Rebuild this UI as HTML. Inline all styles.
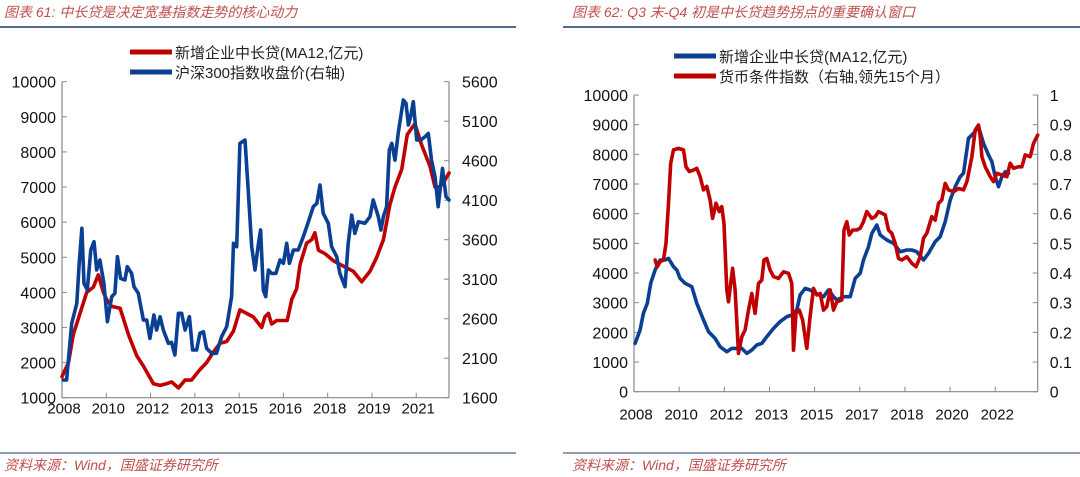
<!DOCTYPE html>
<html><head><meta charset="utf-8">
<style>
html,body{margin:0;padding:0;background:#fff;}
svg{display:block;font-family:"Liberation Sans","Noto Sans CJK SC",sans-serif;}
</style></head>
<body>
<svg id="c" width="1080" height="477" viewBox="0 0 1080 477" xmlns="http://www.w3.org/2000/svg">
<text x="4" y="17" font-size="14" fill="#c0504d" font-style="italic">图表 61:  中长贷是决定宽基指数走势的核心动力</text>
<text x="572" y="17" font-size="14" fill="#c0504d" font-style="italic">图表 62:  Q3 末-Q4 初是中长贷趋势拐点的重要确认窗口</text>
<line x1="0" y1="27" x2="516" y2="27" stroke="#1f3864" stroke-width="1.5"/>
<line x1="563" y1="27" x2="1080" y2="27" stroke="#1f3864" stroke-width="1.5"/>
<line x1="0" y1="453" x2="516" y2="453" stroke="#1f3864" stroke-width="1"/>
<line x1="563" y1="453" x2="1080" y2="453" stroke="#1f3864" stroke-width="1"/>
<text x="4" y="470" font-size="14" fill="#c0504d" font-style="italic">资料来源：Wind，国盛证券研究所</text>
<text x="572" y="470" font-size="14" fill="#c0504d" font-style="italic">资料来源：Wind，国盛证券研究所</text>
<g id="left"></g>
<g id="right"></g>
</svg>
<script>
// ---------- Left chart data ----------
const leftXLabels = ["2008","2010","2012","2013","2015","2016","2018","2019","2021"];
const leftYTicks = [1000,2000,3000,4000,5000,6000,7000,8000,9000,10000];
const leftY2Ticks = [1600,2100,2600,3100,3600,4100,4600,5100,5600];
const leftLoanDates = [2008.00,2008.24,2008.42,2008.67,2008.92,2009.17,2009.35,2009.54,2009.66,2009.85,2010.16,2010.47,2010.78,2011.03,2011.40,2011.65,2011.89,2012.08,2012.33,2012.58,2012.82,2013.13,2013.38,2013.63,2013.88,2014.13,2014.38,2014.62,2014.87,2015.12,2015.43,2015.55,2015.68,2015.80,2015.99,2016.24,2016.38,2016.55,2016.73,2016.86,2017.10,2017.29,2017.41,2017.54,2017.79,2018.10,2018.34,2018.59,2018.84,2019.15,2019.46,2019.71,2019.96,2020.20,2020.39,2020.64,2020.85,2021.13,2021.38,2021.69,2021.88,2022.06,2022.25,2022.40];
const leftLoanValues = [1600,2000,2800,3400,4000,4150,4500,4000,3800,3600,3550,2800,2200,1900,1400,1350,1400,1450,1280,1500,1500,1800,2000,2300,2550,2600,2900,3500,3400,3300,3000,3300,3400,3100,3200,3200,3200,3800,4100,4800,5400,5500,5700,5200,5100,4900,4800,4700,4600,4300,4600,5000,5500,6500,7000,7500,8500,8800,8200,7600,7000,7000,7200,7400];
const leftIndexDates = [2008.05,2008.17,2008.36,2008.55,2008.64,2008.74,2008.82,2008.94,2009.07,2009.19,2009.29,2009.41,2009.56,2009.69,2009.85,2009.97,2010.06,2010.18,2010.34,2010.43,2010.59,2010.68,2010.84,2011.03,2011.15,2011.27,2011.42,2011.52,2011.65,2011.77,2011.96,2012.08,2012.20,2012.33,2012.45,2012.58,2012.74,2012.86,2013.01,2013.13,2013.26,2013.38,2013.57,2013.75,2013.94,2014.13,2014.31,2014.38,2014.50,2014.62,2014.81,2014.93,2015.06,2015.18,2015.31,2015.39,2015.49,2015.58,2015.68,2015.80,2015.96,2016.11,2016.24,2016.36,2016.46,2016.61,2016.79,2016.98,2017.17,2017.35,2017.48,2017.60,2017.72,2017.91,2018.03,2018.22,2018.34,2018.53,2018.65,2018.78,2018.90,2019.03,2019.27,2019.46,2019.58,2019.77,2019.87,2019.96,2020.08,2020.18,2020.27,2020.39,2020.51,2020.70,2020.80,2020.89,2020.97,2021.07,2021.20,2021.35,2021.51,2021.63,2021.75,2021.88,2022.00,2022.16,2022.29,2022.40];
const leftIndexValues = [1824,1824,2541,2794,3300,3744,3047,2963,3469,3575,3216,3343,3047,2562,2879,2921,3385,3110,3090,3258,3174,3005,2921,2583,2583,2351,2647,2457,2625,2457,2288,2300,2140,2668,2668,2457,2625,2204,2204,2415,2436,2225,2162,2162,2372,2499,2879,3554,3512,4819,4862,4229,3512,3216,3554,3723,2963,2879,3216,3174,3174,3343,3301,3554,3301,3469,3469,3638,3828,4018,4060,4292,3934,3807,3512,3385,3174,3005,3554,3912,3680,3828,3807,3891,4102,3891,3723,3891,4018,4735,4819,4608,4946,5368,5326,5052,5157,5347,4862,4862,4904,4946,4608,4397,4018,4503,4144,4102];

// ---------- Right chart data ----------
const rightXLabels = ["2008","2010","2012","2013","2015","2017","2018","2020","2022"];
const rightYTicks = [0,1000,2000,3000,4000,5000,6000,7000,8000,9000,10000];
const rightY2Ticks = [0,0.1,0.2,0.3,0.4,0.5,0.6,0.7,0.8,0.9,1];
const rightY2Labels = ["0","0.1","0.2","0.3","0.4","0.5","0.6","0.7","0.8","0.9","1"];
const rightLoanDates = [2008.04,2008.22,2008.34,2008.48,2008.60,2008.76,2008.94,2009.12,2009.24,2009.42,2009.54,2009.66,2009.84,2010.08,2010.26,2010.50,2010.68,2010.92,2011.10,2011.34,2011.52,2011.70,2011.88,2012.06,2012.24,2012.42,2012.60,2012.78,2013.02,2013.26,2013.50,2013.68,2013.86,2013.98,2014.16,2014.34,2014.52,2014.82,2015.00,2015.18,2015.30,2015.54,2015.78,2015.96,2016.14,2016.26,2016.44,2016.56,2016.74,2016.86,2017.10,2017.34,2017.58,2017.82,2018.00,2018.18,2018.42,2018.60,2018.84,2019.02,2019.20,2019.38,2019.56,2019.74,2019.86,2020.04,2020.22,2020.40,2020.58,2020.76,2020.88,2021.00,2021.12,2021.24,2021.36,2021.48];
const rightLoanValues = [1629,2079,2640,2978,3652,4101,4438,4438,4494,4213,4101,3820,3652,3539,2978,2416,2022,1798,1517,1348,1461,1461,1461,1292,1404,1573,1629,1854,2135,2360,2528,2584,2753,3258,3483,3427,3315,3202,3427,3202,3090,3202,3202,3820,3989,4438,4888,5337,5618,5281,5112,5000,4719,4775,4775,4719,4438,4663,5056,5225,5730,6461,6910,7247,7360,8539,8708,8933,8371,7978,7753,7247,6910,7247,7416,7360];
const rightIndexDates = [2008.76,2008.84,2008.94,2009.06,2009.15,2009.24,2009.32,2009.42,2009.60,2009.78,2009.87,2009.99,2010.14,2010.26,2010.38,2010.50,2010.62,2010.74,2010.83,2010.95,2011.07,2011.16,2011.24,2011.34,2011.40,2011.48,2011.55,2011.64,2011.76,2011.88,2012.00,2012.12,2012.24,2012.36,2012.48,2012.60,2012.68,2012.78,2012.90,2013.02,2013.20,2013.38,2013.56,2013.68,2013.74,2013.83,2013.95,2014.07,2014.22,2014.34,2014.46,2014.58,2014.70,2014.82,2014.94,2015.06,2015.18,2015.30,2015.48,2015.56,2015.66,2015.75,2015.87,2016.02,2016.14,2016.26,2016.38,2016.56,2016.68,2016.80,2017.04,2017.16,2017.28,2017.40,2017.52,2017.64,2017.82,2018.00,2018.15,2018.30,2018.42,2018.54,2018.72,2018.84,2018.96,2019.08,2019.20,2019.32,2019.50,2019.68,2019.86,2019.98,2020.16,2020.28,2020.40,2020.46,2020.52,2020.64,2020.82,2020.94,2021.06,2021.24,2021.42,2021.54,2021.66,2021.84,2021.96,2022.08,2022.26,2022.38,2022.53];
const rightIndexValues = [0.444,0.421,0.438,0.444,0.5,0.635,0.77,0.815,0.82,0.815,0.758,0.742,0.747,0.753,0.725,0.680,0.692,0.646,0.584,0.635,0.607,0.624,0.567,0.343,0.303,0.365,0.416,0.343,0.129,0.185,0.208,0.275,0.331,0.264,0.365,0.376,0.444,0.449,0.410,0.388,0.382,0.404,0.399,0.365,0.140,0.264,0.275,0.242,0.146,0.253,0.348,0.326,0.331,0.275,0.287,0.343,0.275,0.303,0.309,0.545,0.573,0.528,0.545,0.545,0.551,0.573,0.607,0.584,0.590,0.607,0.596,0.545,0.534,0.5,0.449,0.444,0.455,0.433,0.421,0.455,0.517,0.534,0.590,0.578,0.635,0.646,0.702,0.680,0.674,0.685,0.680,0.708,0.792,0.882,0.899,0.860,0.792,0.758,0.725,0.708,0.736,0.730,0.725,0.770,0.753,0.758,0.758,0.798,0.792,0.837,0.865];

const NS="http://www.w3.org/2000/svg";
function mk(parent,tag,attrs){const e=document.createElementNS(NS,tag);for(const k in attrs)e.setAttribute(k,attrs[k]);parent.appendChild(e);return e;}
function lin(d0,d1,r0,r1){return v=>r0+(v-d0)/(d1-d0)*(r1-r0);}

function drawChart(g,cfg){
  const x=lin(cfg.xd[0],cfg.xd[1],cfg.L,cfg.R);
  const y=lin(cfg.yd[0],cfg.yd[1],cfg.B,cfg.T);
  const y2=lin(cfg.y2d[0],cfg.y2d[1],cfg.B,cfg.T);
  // axes
  let a=mk(g,'line',{x1:cfg.L,y1:cfg.T,x2:cfg.L,y2:cfg.B,stroke:'#888','stroke-width':1.2});
  
  a=mk(g,'line',{x1:cfg.R,y1:cfg.T,x2:cfg.R,y2:cfg.B,stroke:'#888','stroke-width':1.2});
  
  a=mk(g,'line',{x1:cfg.L,y1:cfg.B,x2:cfg.R,y2:cfg.B,stroke:'#888','stroke-width':1.2});
  
  cfg.yt.forEach(v=>{
    const yy=y(v);
    const tk=mk(g,'line',{x1:cfg.L,y1:yy,x2:cfg.L+5,y2:yy,stroke:'#888'});
    
    const t=mk(g,'text',{x:cfg.L-6,y:yy+6,'font-size':16,'text-anchor':'end',fill:'#111'});
    t.textContent=String(v);
    
  });
  cfg.y2t.forEach((v,i)=>{
    const yy=y2(v);
    const tk=mk(g,'line',{x1:cfg.R-5,y1:yy,x2:cfg.R,y2:yy,stroke:'#888'});
    
    const t=mk(g,'text',{x:cfg.R+cfg.y2off,y:yy+6,'font-size':16,'text-anchor':'start',fill:'#111'});
    t.textContent=cfg.y2l?cfg.y2l[i]:String(v);
    
  });
  const step=(cfg.R-cfg.L)/cfg.nInt;
  for(let i=0;i<=cfg.nInt;i++){
    const xx=cfg.L+i*step;
    const tk=mk(g,'line',{x1:xx,y1:cfg.B-5,x2:xx,y2:cfg.B,stroke:'#888'});
    
  }
  cfg.xl.forEach((s,i)=>{
    const t=mk(g,'text',{x:cfg.L+i*step+2,y:cfg.B+cfg.xlOff,'font-size':15,'text-anchor':'middle',fill:'#111'});
    t.textContent=s;
    
  });
  function path(dates,vals,sc,color,name){
    const d=dates.map((t,i)=>(i?'L':'M')+x(t).toFixed(1)+','+sc(vals[i]).toFixed(1)).join('');
    const p=mk(g,'path',{d:d,fill:'none',stroke:color,'stroke-width':3.6,'stroke-linejoin':'round','stroke-linecap':'round'});
    
    
  }
  cfg.series.forEach(s=>path(s.d,s.v,s.axis===2?y2:y,s.c,s.n));
  cfg.legend.forEach((l,i)=>{
    const yy=cfg.legY+i*20;
    const ln=mk(g,'line',{x1:cfg.legX,y1:yy,x2:cfg.legX+42,y2:yy,stroke:l.c,'stroke-width':5});
    
    const t=mk(g,'text',{x:cfg.legX+45,y:yy+6,'font-size':15,fill:'#222'});
    t.textContent=l.t;
    
  });
}
const RED='#c00000', BLUE='#0b3f94';
drawChart(document.getElementById('left'),{
  L:62,R:449,T:81.7,B:397.7,xd:[2008,2022.4],yd:[1000,10000],y2d:[1600,5600],
  yt:leftYTicks,y2t:leftY2Ticks,y2off:13,nInt:8.74,xl:leftXLabels,xlOff:16,
  series:[{d:leftLoanDates,v:leftLoanValues,axis:1,c:RED,n:'loan-ma12-line'},
          {d:leftIndexDates,v:leftIndexValues,axis:2,c:BLUE,n:'csi300-line'}],
  legend:[{c:RED,t:'新增企业中长贷(MA12,亿元)'},{c:BLUE,t:'沪深300指数收盘价(右轴)'}],
  legX:130,legY:52
});
drawChart(document.getElementById('right'),{
  L:634,R:1037.7,T:95,B:391.7,xd:[2008,2022.53],yd:[0,10000],y2d:[0,1],
  yt:rightYTicks,y2t:rightY2Ticks,y2l:rightY2Labels,y2off:12,nInt:8.94,xl:rightXLabels,xlOff:28,
  series:[{d:rightLoanDates,v:rightLoanValues,axis:1,c:BLUE,n:'loan-ma12-line'},
          {d:rightIndexDates,v:rightIndexValues,axis:2,c:RED,n:'monetary-condition-line'}],
  legend:[{c:BLUE,t:'新增企业中长贷(MA12,亿元)'},{c:RED,t:'货币条件指数（右轴,领先15个月）'}],
  legX:674,legY:56
});
</script>
</body></html>
